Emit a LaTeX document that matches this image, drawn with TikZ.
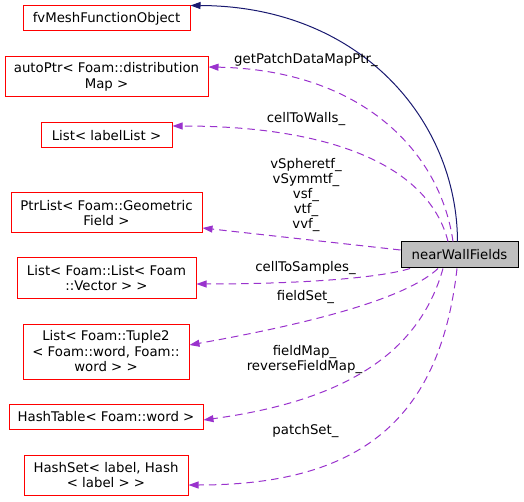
\documentclass[tikz,border=0pt]{standalone}
\usepackage{fontspec}
\setmainfont{DejaVu Sans}
\usetikzlibrary{arrows.meta}

\definecolor{basecol}{HTML}{191970}
\definecolor{usecol}{HTML}{9A32CD}

\tikzset{
    member/.style={draw=red, line width=1pt, fill=white, inner sep=0pt,
        align=center, font=\fontsize{13.3}{15.5}\selectfont},
    mainclass/.style={member, draw=black, fill=gray!50},
    inherit/.style={draw=basecol, line width=1pt, -{Triangle[length=10pt,width=7pt]}},
    uses/.style={draw=usecol, line width=1pt, dash pattern=on 7.5pt off 5pt,
        -{Triangle[length=10pt,width=7pt]}},
    lbl/.style={inner sep=0pt, align=center, font=\fontsize{13.3}{15}\selectfont}
}

\begin{document}
\begin{tikzpicture}[x=1pt, y=-1pt]
    \useasboundingbox (0,0) rectangle (524,502);
    % the class itself
    \node[mainclass, minimum width=117pt, minimum height=26pt] (nwf) at (459.5,255) {nearWallFields};
    % base class and member types
    \node[member, minimum width=167pt, minimum height=25pt] (fvm) at (106.5,18.5) {fvMeshFunctionObject};
    \node[member, minimum width=203pt, minimum height=40pt] (autoptr) at (106.5,77) {autoPtr< Foam::distribution\\Map >};
    \node[member, minimum width=131pt, minimum height=25pt] (labellist) at (106.5,135.5) {List< labelList >};
    \node[member, minimum width=191pt, minimum height=40pt] (ptrlist) at (106.5,213) {PtrList< Foam::Geometric\\Field >};
    \node[member, minimum width=179pt, minimum height=40pt] (vectorlist) at (106.5,278) {List< Foam::List< Foam\\::Vector > >};
    \node[member, minimum width=166pt, minimum height=55pt] (tuplelist) at (106,351.5) {List< Foam::Tuple2\\< Foam::word, Foam::\\word > >};
    \node[member, minimum width=194pt, minimum height=25pt] (hashtable) at (106,416.5) {HashTable< Foam::word >};
    \node[member, minimum width=164pt, minimum height=40pt] (hashset) at (106,475) {HashSet< label, Hash\\< label > >};
    % inheritance
    \draw[inherit] ([xshift=-2pt]nwf.north) .. controls (457,120) and (360,6) .. (fvm.north east);
    % members
    \draw[uses] ([xshift=-6.5pt]nwf.north) .. controls (440,150) and (360,70) .. ([yshift=10pt]autoptr.east);
    \draw[uses] ([xshift=-11.5pt]nwf.north) .. controls (430,170) and (340,126) .. ([yshift=9.5pt]labellist.east);
    \draw[uses] ([yshift=5pt]nwf.west) -- ([yshift=-15pt]ptrlist.east);
    \draw[uses] ([xshift=-49.5pt]nwf.south) .. controls (380,278) and (300,284) .. ([yshift=-6pt]vectorlist.east);
    \draw[uses] ([xshift=-21.5pt]nwf.south) .. controls (410,295) and (330,320) .. ([yshift=6.5pt]tuplelist.east);
    \draw[uses] ([xshift=-16.5pt]nwf.south) .. controls (420,350) and (350,400) .. ([yshift=-3.5pt]hashtable.east);
    \draw[uses] ([xshift=-2.5pt]nwf.south) .. controls (440,420) and (360,485) .. ([yshift=-10pt]hashset.east);
    % edge labels
    \node[lbl] (lpatchmap) at (306,60) {getPatchDataMapPtr\_};
    \node[lbl] (lwalls) at (306,119) {cellToWalls\_};
    \node[lbl] (lfields) at (306,195) {vSpheretf\_\\vSymmtf\_\\vsf\_\\vtf\_\\vvf\_};
    \node[lbl] (lsamples) at (305.5,268) {cellToSamples\_};
    \node[lbl] (lfieldset) at (305.5,297) {fieldSet\_};
    \node[lbl] (lfieldmap) at (304.5,359.5) {fieldMap\_\\reverseFieldMap\_};
    \node[lbl] (lpatchset) at (305.5,431) {patchSet\_};
\end{tikzpicture}
\end{document}
